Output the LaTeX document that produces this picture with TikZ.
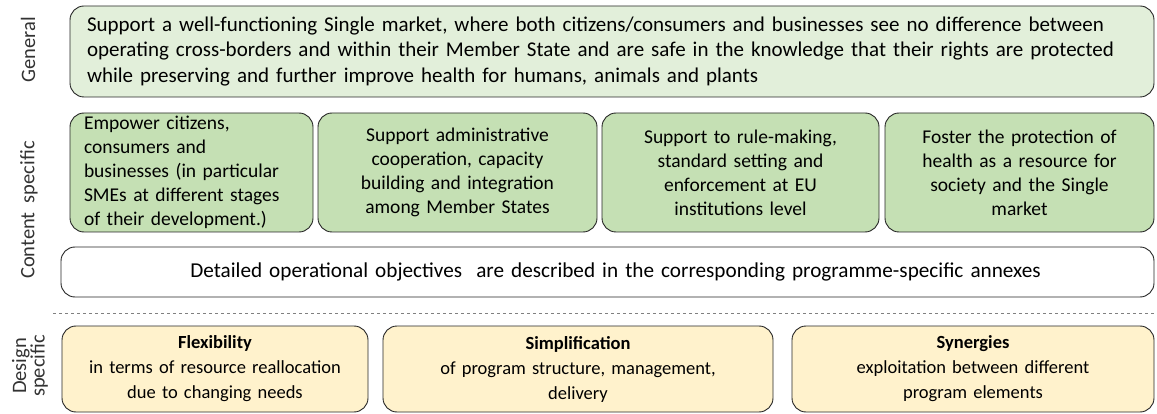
\documentclass[tikz,border=0pt]{standalone}
\usepackage{fontspec}
\setmainfont{Carlito}
\definecolor{generalgreen}{HTML}{E2EFDA}
\definecolor{contentgreen}{HTML}{C5E0B4}
\definecolor{designyellow}{HTML}{FFF2CC}
\tikzset{
    obj-box/.style = {draw=black!85, line width=0.9pt, rectangle, rounded corners=14pt, inner sep=0pt, align=center},
    general-box/.style = {obj-box, fill=generalgreen, align=left, font=\fontsize{21}{25.5}\selectfont},
    content-box/.style = {obj-box, fill=contentgreen, font=\fontsize{19.5}{24}\selectfont},
    design-box/.style = {obj-box, fill=designyellow, font=\fontsize{18.5}{25}\selectfont},
    side-label/.style = {rotate=90, align=center, text=black!80, font=\fontsize{20.5}{17}\selectfont},
}
\begin{document}
\begin{tikzpicture}[x=1pt, y=-1pt]
\useasboundingbox (0,0) rectangle (1157,414);
% general objective
\node[general-box, minimum width=1084pt, minimum height=91pt, text width=1050pt] (general) at (612,51.5)
  {Support a well-functioning Single market, where both citizens/consumers and businesses see no difference between\\
   operating cross-borders and within their Member State and are safe in the knowledge that their rights are protected\\
   while preserving and further improve health for humans, animals and plants};
% content specific objectives
\node[content-box, minimum width=243pt, minimum height=119pt, text width=215pt, align=left] (empower) at (191.5,172.5)
  {Empower citizens,\\ consumers and\\ businesses (in particular\\ SMEs at different stages\\ of their development.)};
\node[content-box, minimum width=279pt, minimum height=119pt, text width=250pt] (cooperation) at (457.5,172.5)
  {Support administrative\\ cooperation, capacity\\ building and integration\\ among Member States};
\node[content-box, minimum width=277pt, minimum height=119pt, text width=250pt] (rulemaking) at (740.5,172.5)
  {Support to rule-making,\\ standard setting and\\ enforcement at EU\\ institutions level};
\node[content-box, minimum width=269pt, minimum height=119pt, text width=245pt] (health) at (1019.5,172.5)
  {Foster the protection of\\ health as a resource for\\ society and the Single\\ market};
\node[obj-box, fill=white, minimum width=1093pt, minimum height=50pt, text width=1070pt, font=\fontsize{21.2}{24}\selectfont] (detailed) at (607.5,272)
  {\hspace*{16pt}Detailed operational objectives\ \ are described in the corresponding programme-specific annexes};
% separator
\coordinate (sep-left) at (53,313);
\coordinate (sep-right) at (1157,313);
\draw[black!50, dashed, line width=0.8pt] (sep-left) -- (sep-right);
% design specific objectives
\node[design-box, minimum width=306pt, minimum height=86pt, text width=290pt] (flexibility) at (215,369)
  {\textbf{Flexibility}\\ in terms of resource reallocation\\ due to changing needs};
\node[design-box, minimum width=390pt, minimum height=86pt, text width=370pt] (simplification) at (578,369)
  {\textbf{Simplification}\\ of program structure, management,\\ delivery};
\node[design-box, minimum width=362pt, minimum height=86pt, text width=340pt] (synergies) at (973,369)
  {\textbf{Synergies}\\ exploitation between different\\ program elements};
% side labels
\node[side-label] (general-label) at (28,50) {General};
\node[side-label] (content-label) at (29,210) {Content\ \ specific};
\node[side-label] (design-label) at (30,366) {Design\\ specific};
\end{tikzpicture}
\end{document}
